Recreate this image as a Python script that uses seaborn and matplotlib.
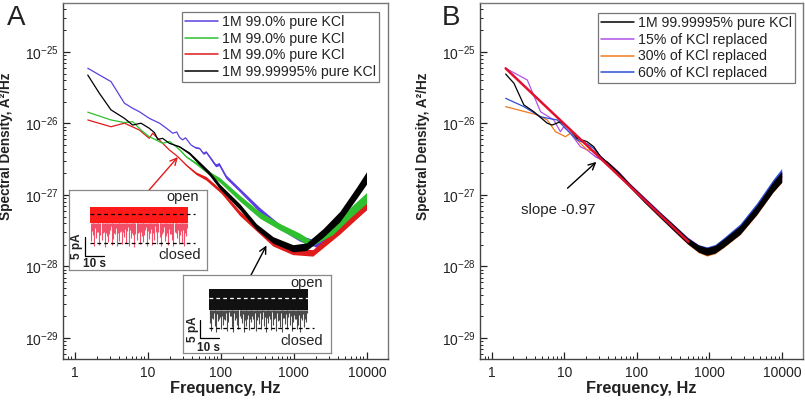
import numpy as np
import pandas as pd
import matplotlib
matplotlib.use("Agg")
import matplotlib.pyplot as plt
import seaborn as sns
from matplotlib.ticker import LogLocator, NullFormatter, FixedLocator, FuncFormatter

# ---------------- data ----------------
# Panel A
a_blue_f = [1.51, 3.14, 4.80, 6.23, 7.69, 10.5, 14.5, 18.0, 22.0, 25.0, 27.2, 30.0, 33.0, 39.2, 45.0, 51.1, 58.0, 63.0, 70.0, 85.0, 95.0, 118, 182, 342, 643, 1208, 2270, 4266, 9900]
a_blue_S = [5.92e-26, 3.85e-26, 1.92e-26, 1.63e-26, 1.46e-26, 1.18e-26, 1.01e-26, 8.6e-27, 7.3e-27, 7.6e-27, 6.41e-27, 5.9e-27, 6.3e-27, 5.0e-27, 4.6e-27, 4.5e-27, 3.8e-27, 4.0e-27, 3.44e-27, 2.6e-27, 2.7e-27, 1.80e-27, 1.17e-27, 6.17e-28, 3.6e-28, 2.48e-28, 2.0e-28, 3.5e-28, 7.2e-28]
a_blue_spread = [1, 1, 1, 1, 1, 1, 1, 1, 1, 1, 1, 1, 1, 1, 1.02, 1.02, 1.03, 1.03, 1.04, 1.05, 1.05, 1.06, 1.06, 1.08, 1.08, 1.10, 1.12, 1.14, 1.16]

a_green_f = [1.51, 3.14, 4.80, 6.23, 8.09, 10.5, 12.5, 16.0, 20.0, 24.4, 28.0, 33.5, 45.9, 70.0, 96.9, 182, 342, 643, 1208, 1656, 3420, 5850, 9910]
a_green_S = [1.44e-26, 1.12e-26, 1.03e-26, 1.06e-26, 8.1e-27, 6.53e-27, 6.0e-27, 5.28e-27, 5.6e-27, 4.74e-27, 4.2e-27, 3.44e-27, 2.77e-27, 2.01e-27, 1.62e-27, 9.0e-28, 5.25e-28, 3.6e-28, 2.61e-28, 2.11e-28, 3.24e-28, 5.6e-28, 9.1e-28]
a_green_spread = [1, 1, 1, 1, 1, 1, 1, 1, 1, 1, 1.02, 1.02, 1.04, 1.06, 1.08, 1.10, 1.11, 1.11, 1.12, 1.13, 1.16, 1.18, 1.19]

a_red_f = [1.51, 3.14, 4.80, 7.69, 10.5, 11.7, 16.0, 19.8, 25.8, 33.5, 45.9, 62.9, 102, 182, 515, 968, 1820, 4266, 9900]
a_red_S = [1.12e-26, 9.0e-27, 1.01e-26, 8.1e-27, 6.2e-27, 7.3e-27, 5.28e-27, 4.26e-27, 3.44e-27, 2.63e-27, 2.01e-27, 1.71e-27, 1.11e-27, 5.55e-28, 2.13e-28, 1.61e-28, 1.55e-28, 3.24e-28, 7.24e-28]
a_red_spread = [1, 1, 1, 1, 1, 1, 1, 1, 1, 1.02, 1.04, 1.06, 1.06, 1.08, 1.10, 1.10, 1.11, 1.14, 1.16]

a_black_f = [1.51, 2.18, 3.14, 4.80, 6.23, 8.09, 10.5, 12.4, 13.7, 16.0, 19.8, 27.2, 37.3, 51.1, 70.0, 96.9, 182, 308, 520, 977, 1493, 2518, 4266, 7228, 9900]
a_black_S = [4.76e-26, 2.64e-26, 1.55e-26, 1.18e-26, 9.5e-27, 1.01e-26, 8.57e-27, 7.43e-27, 6.0e-27, 6.2e-27, 5.28e-27, 4.74e-27, 3.83e-27, 2.77e-27, 2.01e-27, 1.31e-27, 6.85e-28, 3.6e-28, 2.35e-28, 1.80e-28, 1.89e-28, 2.94e-28, 4.98e-28, 1.07e-27, 1.73e-27]
a_black_spread = [1, 1, 1, 1, 1, 1, 1, 1, 1, 1, 1, 1.02, 1.04, 1.06, 1.07, 1.08, 1.10, 1.10, 1.11, 1.12, 1.13, 1.15, 1.18, 1.20, 1.22]

a_labels = ["1M 99.0% pure KCl", "1M 99.0% pure KCl", "1M 99.0% pure KCl", "1M 99.99995% pure KCl"]

# Panel B
b_black_f = [1.56, 2.03, 2.78, 3.81, 5.83, 6.83, 8.87, 11.6, 15.1, 20.7, 25.5, 31.5, 39.8, 56, 79, 126, 200, 316, 501, 708, 923, 1200, 1560, 2650, 4490, 7590, 9910]
b_black_S = [4.92e-26, 3.65e-26, 1.82e-26, 1.46e-26, 1.01e-26, 9.5e-27, 1.06e-26, 8.57e-27, 6.2e-27, 5.56e-27, 4.74e-27, 3.44e-27, 2.8e-27, 2.0e-27, 1.38e-27, 8.6e-28, 5.5e-28, 3.56e-28, 2.29e-28, 1.78e-28, 1.62e-28, 1.74e-28, 2.11e-28, 3.24e-28, 6.17e-28, 1.31e-27, 1.79e-27]
b_black_spread = [1, 1, 1, 1, 1, 1, 1, 1, 1, 1, 1, 1.02, 1.04, 1.06, 1.06, 1.08, 1.08, 1.10, 1.10, 1.12, 1.13, 1.13, 1.14, 1.15, 1.16, 1.18, 1.19]

b_violet_f = [1.56, 3.10, 4.72, 7.18, 8.87, 9.86, 12.2, 16.7, 20.7, 26.9, 39.8, 56, 79, 126, 200, 316, 501, 708, 923, 1200, 1560, 2650, 4490, 7590, 9910]
b_violet_S = [5.92e-26, 4.06e-26, 1.46e-26, 1.12e-26, 7.67e-27, 9.0e-27, 7.3e-27, 4.74e-27, 4.26e-27, 3.44e-27, 2.85e-27, 2.05e-27, 1.40e-27, 8.8e-28, 5.6e-28, 3.6e-28, 2.35e-28, 1.80e-28, 1.65e-28, 1.75e-28, 2.10e-28, 3.30e-28, 6.30e-28, 1.33e-27, 1.80e-27]
b_violet_spread = [1, 1, 1, 1, 1, 1, 1, 1, 1, 1.02, 1.04, 1.06, 1.06, 1.08, 1.09, 1.10, 1.10, 1.12, 1.13, 1.13, 1.14, 1.15, 1.16, 1.18, 1.19]

b_orange_f = [1.56, 4.25, 5.83, 7.59, 10.4, 12.2, 20.7, 25.5, 31.5, 39.8, 56, 79, 126, 200, 316, 501, 708, 923, 1200, 1560, 2650, 4490, 7590, 9910]
b_orange_S = [1.72e-26, 1.32e-26, 1.12e-26, 7.67e-27, 6.53e-27, 7.3e-27, 4.26e-27, 4.2e-27, 3.4e-27, 2.8e-27, 1.95e-27, 1.36e-27, 8.5e-28, 5.4e-28, 3.5e-28, 2.25e-28, 1.74e-28, 1.58e-28, 1.70e-28, 2.08e-28, 3.20e-28, 6.10e-28, 1.30e-27, 1.77e-27]
b_orange_spread = [1, 1, 1, 1, 1, 1, 1, 1, 1.02, 1.04, 1.06, 1.06, 1.08, 1.09, 1.10, 1.10, 1.12, 1.13, 1.13, 1.14, 1.15, 1.16, 1.18, 1.19]

b_blue_f = [1.56, 2.78, 4.72, 8.0, 11.0, 15.1, 20.7, 25.5, 31.5, 39.8, 56, 79, 126, 200, 316, 501, 708, 923, 1200, 1560, 2650, 4490, 7590, 9910]
b_blue_S = [2.25e-26, 1.72e-26, 1.24e-26, 1.12e-26, 8.1e-27, 5.87e-27, 5.2e-27, 4.5e-27, 3.5e-27, 2.75e-27, 1.98e-27, 1.37e-27, 8.6e-28, 5.5e-28, 3.55e-28, 2.3e-28, 1.80e-28, 1.66e-28, 1.80e-28, 2.20e-28, 3.40e-28, 6.60e-28, 1.40e-27, 1.95e-27]
b_blue_spread = [1, 1, 1, 1, 1, 1, 1, 1.02, 1.02, 1.04, 1.06, 1.06, 1.08, 1.09, 1.10, 1.10, 1.12, 1.13, 1.13, 1.14, 1.16, 1.17, 1.19, 1.20]

b_fit_f = [1.56, 515]
b_fit_S = [5.9e-26, 2.22e-28]

b_labels = ["1M 99.99995% pure KCl", "15% of KCl replaced", "30% of KCl replaced", "60% of KCl replaced"]

# insets: current traces (time in s, current in pA)
red_trace_t = [0.0, 51.6]
red_band = [5.3, 9.5]
red_levels = [7.6, 0.0]
red_spk_t = [0.5, 1.4, 2.2, 3.3, 4.0, 4.9, 6.1, 6.9, 7.8, 8.7, 9.6, 10.6, 11.4, 12.3, 13.1, 14.2, 15.1, 15.9, 17.0, 17.8, 18.8, 19.6, 20.5, 21.7, 22.4, 23.3, 24.5, 25.2, 26.1, 27.3, 28.0, 28.9, 30.1, 30.9, 31.8, 32.9, 33.7, 34.8, 35.5, 36.6, 37.4, 38.3, 39.5, 40.2, 41.1, 42.3, 43.0, 43.9, 45.1, 45.8, 46.7, 47.9, 48.6, 49.5, 50.7]
red_spk_lo = [0.5, 2.1, -0.8, 1.4, 3.0, -0.5, 0.9, 2.6, -1.0, 1.8, 0.2, 3.4, -0.6, 1.1, 2.4, -0.9, 0.6, 2.9, -0.3, 1.6, 0.0, 3.1, -0.7, 1.2, 2.2, -1.0, 0.8, 2.7, -0.4, 1.9, 0.3, 3.3, -0.8, 1.0, 2.5, -0.6, 0.7, 2.8, -0.2, 1.5, -0.9, 3.0, 0.4, 1.7, -0.5, 2.3, 0.9, -0.7, 2.6, 1.3, -0.3, 3.2, 0.1, -0.8, 1.9]
red_spk2_t = [0.95, 1.8, 2.75, 3.65, 4.45, 5.5, 6.5, 7.35, 8.25, 9.15, 10.1, 11.0, 11.85, 12.7, 13.65, 14.65, 15.5, 16.45, 17.4, 18.3, 19.2, 20.05, 21.1, 22.05, 22.85, 23.9, 24.85, 25.65, 26.7, 27.65, 28.45, 29.5, 30.5, 31.35, 32.35, 33.3, 34.25, 35.15, 36.05, 37.0, 37.85, 38.9, 39.85, 40.65, 41.7, 42.65, 43.45, 44.5, 45.45, 46.25, 47.3, 48.25, 49.05, 50.1, 51.2]
red_spk2_lo = [3.1, 2.4, 4.0, 2.8, 3.6, 2.2, 4.2, 3.0, 2.6, 3.8, 2.3, 4.4, 3.3, 2.7, 3.9, 2.5, 4.1, 3.2, 2.9, 3.7, 2.1, 4.3, 3.4, 2.6, 3.5, 2.4, 4.0, 3.0, 2.8, 3.9, 2.2, 4.2, 3.1, 2.7, 3.6, 2.5, 4.4, 3.3, 2.9, 3.8, 2.3, 4.1, 3.2, 2.6, 3.7, 2.4, 4.0, 3.0, 2.8, 3.5, 2.2, 4.3, 3.4, 2.7, 3.9]

blk_trace_t = [0.0, 52.0]
blk_band = [4.9, 10.5]
blk_levels = [8.1, 0.0]
blk_spk_t = [0.3, 1.2, 2.0, 2.9, 3.9, 4.6, 5.7, 6.5, 7.3, 8.4, 9.2, 10.1, 11.2, 11.9, 12.8, 13.9, 14.6, 15.5, 16.6, 17.3, 18.2, 19.3, 20.0, 20.9, 22.0, 22.7, 23.6, 24.7, 25.4, 26.3, 27.4, 28.1, 29.0, 30.1, 30.8, 31.7, 32.8, 33.5, 34.4, 35.5, 36.2, 37.1, 38.2, 38.9, 39.8, 40.9, 41.6, 42.5, 43.6, 44.3, 45.2, 46.3, 47.0, 47.9, 49.0, 49.8, 50.9]
blk_spk_lo = [1.2, -0.9, 2.5, 0.4, -1.1, 1.9, 3.0, -0.2, 0.8, 2.2, -0.8, 1.5, 3.3, 0.1, -1.0, 2.0, 0.9, -0.4, 2.8, 1.3, -1.1, 0.5, 2.4, -0.6, 1.7, 3.1, 0.0, -0.9, 2.1, 1.0, -0.3, 2.7, 0.6, -1.0, 1.4, 3.2, -0.5, 0.8, 2.3, -0.8, 1.8, 0.2, -1.1, 2.6, 1.1, -0.2, 3.0, 0.7, -0.9, 1.6, 2.5, -0.4, 0.9, -1.0, 2.1, 0.3, 1.5]
blk_spk2_t = [0.75, 1.6, 2.45, 3.4, 4.25, 5.15, 6.1, 6.9, 7.85, 8.8, 9.65, 10.65, 11.55, 12.35, 13.35, 14.25, 15.05, 16.05, 16.95, 17.75, 18.75, 19.65, 20.45, 21.45, 22.35, 23.15, 24.15, 25.05, 25.85, 26.85, 27.75, 28.55, 29.55, 30.45, 31.25, 32.25, 33.15, 33.95, 34.95, 35.85, 36.65, 37.65, 38.55, 39.35, 40.35, 41.25, 42.05, 43.05, 43.95, 44.75, 45.75, 46.65, 47.45, 48.45, 49.4, 50.35, 51.4]
blk_spk2_lo = [3.4, 2.6, 4.1, 2.9, 3.7, 2.3, 4.3, 3.1, 2.5, 3.9, 2.4, 4.4, 3.2, 2.8, 4.0, 2.6, 4.2, 3.3, 2.7, 3.8, 2.2, 4.3, 3.5, 2.5, 3.6, 2.3, 4.1, 3.1, 2.9, 4.0, 2.4, 4.2, 3.0, 2.6, 3.7, 2.5, 4.4, 3.4, 2.8, 3.9, 2.2, 4.0, 3.3, 2.7, 3.8, 2.5, 4.1, 3.1, 2.9, 3.6, 2.3, 4.2, 3.5, 2.6, 3.8, 2.4, 3.9]

xticks = [1, 10, 100, 1000, 10000]
yticks = [1e-29, 1e-28, 1e-27, 1e-26, 1e-25]

# ---------------- style ----------------
sns.set_theme(style="ticks")
plt.rcParams["font.family"] = ["Liberation Sans", "DejaVu Sans"]
plt.rcParams["mathtext.fontset"] = "custom"
plt.rcParams["mathtext.rm"] = "Liberation Sans"
plt.rcParams["mathtext.it"] = "Liberation Sans:italic"
plt.rcParams["mathtext.bf"] = "Liberation Sans:bold"

TXT = "#222222"
SPINE = "#444444"

fig = plt.figure(figsize=(8.05, 4.07), dpi=100)
axA = fig.add_axes([63 / 805, 1 - 359 / 407, 325 / 805, 356 / 407])
axB = fig.add_axes([480 / 805, 1 - 359 / 407, 323 / 805, 356 / 407])


def draw_curve(ax, f, S, spread, color, z, lw=0.9):
    df = pd.DataFrame({"f": f, "S": S, "sp": spread})
    ax.fill_between(df["f"], df["S"] / df["sp"], df["S"] * df["sp"],
                    color=color, lw=0, zorder=z)
    sns.lineplot(data=df, x="f", y="S", ax=ax, color=color, lw=lw,
                 sort=False, estimator=None, legend=False, zorder=z)


def style_axis(ax):
    ax.set_xscale("log")
    ax.set_yscale("log")
    ax.set_xlim(10 ** -0.16, 10 ** 4.29)
    ax.set_ylim(10 ** -29.294, 10 ** -24.315)
    ax.xaxis.set_major_locator(FixedLocator(xticks))
    ax.xaxis.set_major_formatter(FuncFormatter(lambda v, p: f"{int(round(v))}"))
    ax.yaxis.set_major_locator(FixedLocator(yticks))
    ax.yaxis.set_major_formatter(
        FuncFormatter(lambda v, p: r"$10^{%d}$" % int(round(np.log10(v)))))
    ax.xaxis.set_minor_locator(LogLocator(base=10, subs=np.arange(2, 10), numticks=20))
    ax.yaxis.set_minor_locator(LogLocator(base=10, subs=np.arange(2, 10), numticks=20))
    ax.xaxis.set_minor_formatter(NullFormatter())
    ax.yaxis.set_minor_formatter(NullFormatter())
    ax.tick_params(which="major", direction="in", length=5, width=0.9, color="#222222",
                   labelsize=10, labelcolor=TXT, top=False, right=False)
    ax.tick_params(which="minor", direction="in", length=2.5, width=0.7, color="#222222",
                   top=False, right=False)
    ax.tick_params(axis="x", which="major", pad=5)
    ax.tick_params(axis="y", which="major", pad=3)
    for s in ax.spines.values():
        s.set_visible(True)
        s.set_color(SPINE)
        s.set_linewidth(1.0)
    ax.spines["top"].set_color("#777777")
    ax.spines["right"].set_color("#777777")
    ax.set_facecolor("white")
    ax.set_xlabel("Frequency, Hz", fontsize=11.8, fontweight="bold", color=TXT)
    ax.set_ylabel("Spectral Density, A²/Hz", fontsize=9.8, fontweight="bold", color=TXT)
    ax.xaxis.set_label_coords(0.5, -0.062)
    ax.yaxis.set_label_coords(-0.155, 0.598)
    ax.grid(False)


# ---------------- panel A ----------------
cA = ["#5b3fe0", "#2fbf2f", "#e01b1b", "#000000"]
draw_curve(axA, a_blue_f, a_blue_S, a_blue_spread, cA[0], 2)
draw_curve(axA, a_red_f, a_red_S, a_red_spread, cA[2], 3)
draw_curve(axA, a_green_f, a_green_S, a_green_spread, cA[1], 4)
draw_curve(axA, a_black_f, a_black_S, a_black_spread, cA[3], 5)
style_axis(axA)

LEG = dict(loc="upper right", borderaxespad=0, fontsize=10.2, handlelength=2.3,
           handletextpad=0.3, labelspacing=0.2, borderpad=0.2, frameon=True,
           fancybox=False, framealpha=1, edgecolor="#777777")
hA = [plt.Line2D([], [], color=c, lw=1.1) for c in cA]
legA = axA.legend(hA, a_labels, bbox_to_anchor=(0.972, 0.975), **LEG)
legA.get_frame().set_linewidth(0.9)
for t in legA.get_texts():
    t.set_color(TXT)

axA.annotate("", xy=(27.4, 3.63e-27), xytext=(7.3, 7.7e-28),
             arrowprops=dict(arrowstyle="->", color="#e01b1b", lw=1.0), zorder=8)
axA.annotate("", xy=(440, 2.13e-28), xytext=(213, 5.16e-29),
             arrowprops=dict(arrowstyle="->", color="black", lw=1.0), zorder=8)

# ---------------- panel B ----------------
cB = ["#000000", "#b052e6", "#f07a1e", "#2b4fd6"]
draw_curve(axB, b_violet_f, b_violet_S, b_violet_spread, cB[1], 2)
draw_curve(axB, b_orange_f, b_orange_S, b_orange_spread, cB[2], 3)
draw_curve(axB, b_blue_f, b_blue_S, b_blue_spread, cB[3], 4)
draw_curve(axB, b_black_f, b_black_S, b_black_spread, cB[0], 5)
sns.lineplot(x=b_fit_f, y=b_fit_S, ax=axB, color="#e0102e", lw=1.8,
             sort=False, estimator=None, legend=False, zorder=7)
style_axis(axB)

hB = [plt.Line2D([], [], color=c, lw=1.1) for c in cB]
legB = axB.legend(hB, b_labels, bbox_to_anchor=(0.975, 0.972), **LEG)
legB.get_frame().set_linewidth(0.9)
for t in legB.get_texts():
    t.set_color(TXT)

axB.annotate("", xy=(29.6, 3.08e-27), xytext=(10.4, 1.17e-27),
             arrowprops=dict(arrowstyle="->", color="black", lw=1.0), zorder=8)
axB.text(8.34, 6.17e-28, "slope -0.97", ha="center", va="center",
         fontsize=10.8, color=TXT, zorder=8)

# panel letters
fig.text(16 / 805, 1 - 18 / 407, "A", fontsize=20, ha="center", va="center", color=TXT)
fig.text(451 / 805, 1 - 18 / 407, "B", fontsize=20, ha="center", va="center", color=TXT)


# ---------------- insets ----------------
def inset(rect, xlim, ylim, trace_t, band, levels, spikes, color, spk_color,
          open_dash_color, open_xy, closed_xy, bar_x, bar_y, pa_xy, s_xy):
    ax = fig.add_axes(rect)
    ax.set_xlim(*xlim)
    ax.set_ylim(*ylim)
    ax.set_xticks([])
    ax.set_yticks([])
    ax.set_facecolor("white")
    for s in ax.spines.values():
        s.set_color("#888888")
        s.set_linewidth(0.9)
    for st, slo in spikes:
        n = min(len(st), len(slo))
        ax.vlines(st[:n], slo[:n], band[0], color=spk_color, lw=0.8, zorder=2)
    ax.fill_between(trace_t, [band[0]] * 2, [band[1]] * 2, color=color, lw=0, zorder=3)
    ax.hlines(levels[0], trace_t[0], trace_t[1] + 3.5, color=open_dash_color, lw=0.9,
              linestyles=(0, (3, 2.5)), zorder=4)
    ax.hlines(levels[1], trace_t[0], trace_t[1] + 3.5, color="black", lw=0.9,
              linestyles=(0, (3, 2.5)), zorder=4)
    ax.text(*open_xy, "open", ha="center", va="center", fontsize=10.5, color=TXT)
    ax.text(*closed_xy, "closed", ha="center", va="center", fontsize=10.5, color=TXT)
    ax.plot([bar_x[0], bar_x[0], bar_x[1]], [bar_y[1], bar_y[0], bar_y[0]],
            color="black", lw=0.9)
    ax.text(*pa_xy, "5 pA", rotation=90, ha="center", va="center", fontsize=8.5,
            fontweight="bold", color=TXT)
    ax.text(*s_xy, "10 s", ha="center", va="center", fontsize=8.5,
            fontweight="bold", color=TXT)
    return ax


inset([69 / 805, 1 - 270 / 407, 138 / 805, 80 / 407], (-11.05, 61.6), (-7.1, 13.9),
      red_trace_t, red_band, red_levels,
      [(red_spk_t, red_spk_lo), (red_spk2_t, red_spk2_lo)], "#ff1a1a", "#f2506a",
      "black", (48.9, 12.1), (47.4, -3.2), (-2.6, 7.4), (-3.4, 1.6), (-6.6, -0.9),
      (2.6, -5.4))

inset([183 / 805, 1 - 353 / 407, 148 / 805, 78 / 407], (-13.7, 64.2), (-6.8, 14.3),
      blk_trace_t, blk_band, blk_levels,
      [(blk_spk_t, blk_spk_lo), (blk_spk2_t, blk_spk2_lo)], "#111111", "#4a4a4a",
      "white", (51.6, 12.2), (49.0, -3.5), (-4.75, 5.25), (-2.7, 2.2), (-8.6, -0.3),
      (-0.5, -5.4))

fig.savefig("out.png", dpi=100)
